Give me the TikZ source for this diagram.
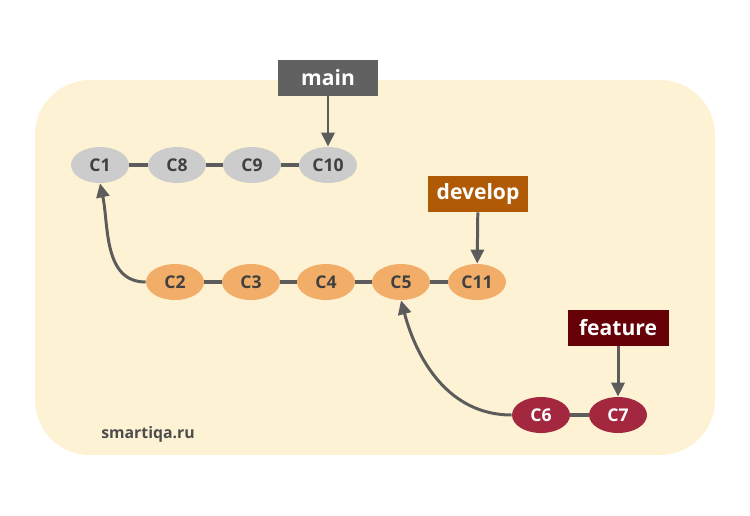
\documentclass[tikz,border=0pt]{standalone}
\usepackage{fontspec}
\setmainfont{Open Sans}
\usetikzlibrary{positioning,arrows.meta,shapes.geometric}
\definecolor{bgFill}{HTML}{FDF2D3}
\definecolor{lineGray}{HTML}{5C5C5C}
\definecolor{mainFill}{HTML}{CCCCCC}
\definecolor{devFill}{HTML}{F2AE69}
\definecolor{featFill}{HTML}{A3283F}
\definecolor{mainTag}{HTML}{616161}
\definecolor{devTag}{HTML}{B15A05}
\definecolor{featTag}{HTML}{650006}

\begin{document}
\begin{tikzpicture}[
  x=0.02cm, y=-0.02cm,
  font=\bfseries,
  commit/.style ={ellipse, minimum width=1.16cm, minimum height=0.72cm, inner sep=0pt, text=black!75},
  cmain/.style  ={commit, fill=mainFill},
  cdev/.style   ={commit, fill=devFill},
  cfeat/.style  ={commit, fill=featFill, text=white},
  tag/.style    ={minimum width=2.02cm, minimum height=0.72cm, inner sep=0pt, text=white, font=\bfseries\large},
  link/.style   ={lineGray, line width=2.2pt},
  arr/.style    ={-{Triangle[length=2.8mm, width=2.6mm]}, lineGray, line width=1.7pt},
]
\useasboundingbox (0,0) rectangle (750,515);

% ============ Background ============
\fill[bgFill, rounded corners=1.1cm] (35,80) rectangle (715,455);
\node[font=\bfseries\small, text=black!70] (site) at (148,434) {smartiqa.ru};

% ============ main branch ============
\node[cmain] (c1)  at (100,165) {C1};
\node[cmain] (c8)  at (177,165) {C8};
\node[cmain] (c9)  at (252,165) {C9};
\node[cmain] (c10) at (328,165) {C10};

% ============ develop branch ============
\node[cdev] (c2)  at (175,282) {C2};
\node[cdev] (c3)  at (251,282) {C3};
\node[cdev] (c4)  at (326,282) {C4};
\node[cdev] (c5)  at (401,282) {C5};
\node[cdev] (c11) at (477,282) {C11};

% ============ feature branch ============
\node[cfeat] (c6) at (541,415) {C6};
\node[cfeat] (c7) at (618,415) {C7};

% ============ Branch tags ============
\node[tag, fill=mainTag] (tmain) at (328,78)  {main};
\node[tag, fill=devTag]  (tdev)  at (478,194) {develop};
\node[tag, fill=featTag] (tfeat) at (618,328) {feature};

% ============ Links ============
\foreach \a/\b in {c1/c8, c8/c9, c9/c10, c2/c3, c3/c4, c4/c5, c5/c11, c6/c7} {
  \draw[link] (\a) -- (\b);
}

% ============ Arrows ============
\draw[arr] (tmain) -- (c10);
\draw[arr] (tdev) -- (c11);
\draw[arr] (tfeat) -- (c7);
\draw[arr] (c2.west) to[out=180, in=-78] (c1.south);
\draw[arr] (c6.west) to[out=180, in=-75] (c5.south);

\end{tikzpicture}
\end{document}
